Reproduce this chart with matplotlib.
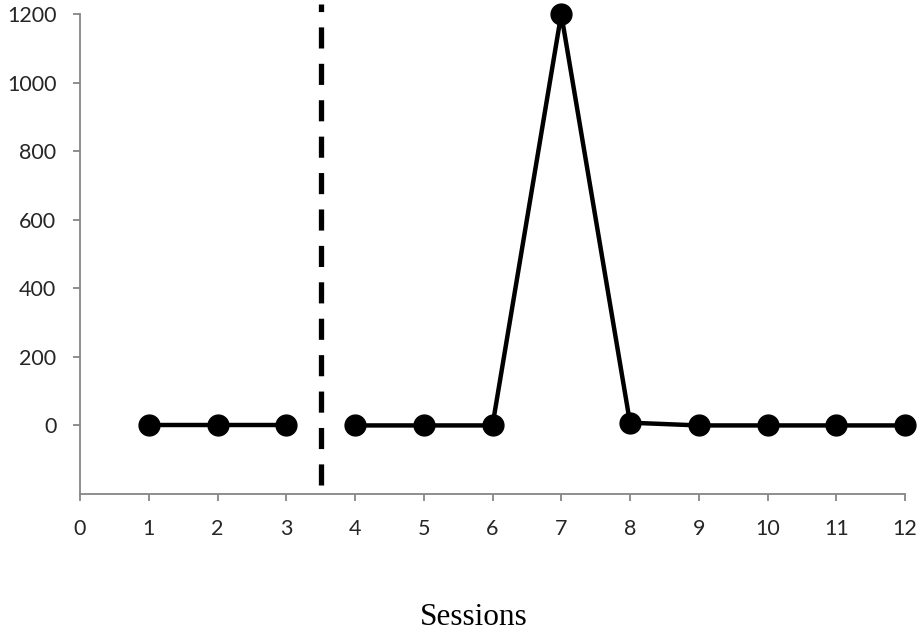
import matplotlib
matplotlib.use('Agg')
import matplotlib.pyplot as plt

# Session data
sessions = [1, 2, 3, 4, 5, 6, 7, 8, 9, 10, 11, 12]
values = [0, 0, 0, 0, 0, 0, 1200, 8, 0, 0, 0, 0]
phase_change = 3.5
x_ticks = list(range(0, 13))
y_ticks = [0, 200, 400, 600, 800, 1000, 1200]

fig = plt.figure(figsize=(9.17, 6.32), dpi=100)
ax = fig.add_axes([80 / 917, 1 - 494 / 632, 825 / 917, 480 / 632])

# phase 1 and phase 2 drawn as separate segments
ax.plot(sessions[:3], values[:3], color='black', lw=3.2, marker='o', ms=15, clip_on=False)
ax.plot(sessions[3:], values[3:], color='black', lw=3.2, marker='o', ms=15, clip_on=False)

vl, = ax.plot([phase_change, phase_change], [-175, 1229], color='black', lw=3.8, clip_on=False)
vl.set_dashes((4.0, 2.9))

ax.set_xlim(0, 12)
ax.set_ylim(-200, 1200)
ax.set_xticks(x_ticks)
ax.set_yticks(y_ticks)

for s in ['top', 'right']:
    ax.spines[s].set_visible(False)
for s in ['left', 'bottom']:
    ax.spines[s].set_color('#868686')
    ax.spines[s].set_linewidth(1.3)
ax.tick_params(axis='both', direction='out', length=5, width=1.3, color='#868686',
               labelsize=15.5, labelcolor='#262626')
ax.tick_params(axis='x', pad=13)
ax.tick_params(axis='y', pad=12)
for lab in ax.get_xticklabels() + ax.get_yticklabels():
    lab.set_fontfamily('Lato')

fig.text(474 / 917, 1 - 625 / 632, 'Sessions', ha='center', va='baseline',
         fontsize=22.5, fontfamily='Liberation Serif')

fig.savefig('out.png', dpi=100)
